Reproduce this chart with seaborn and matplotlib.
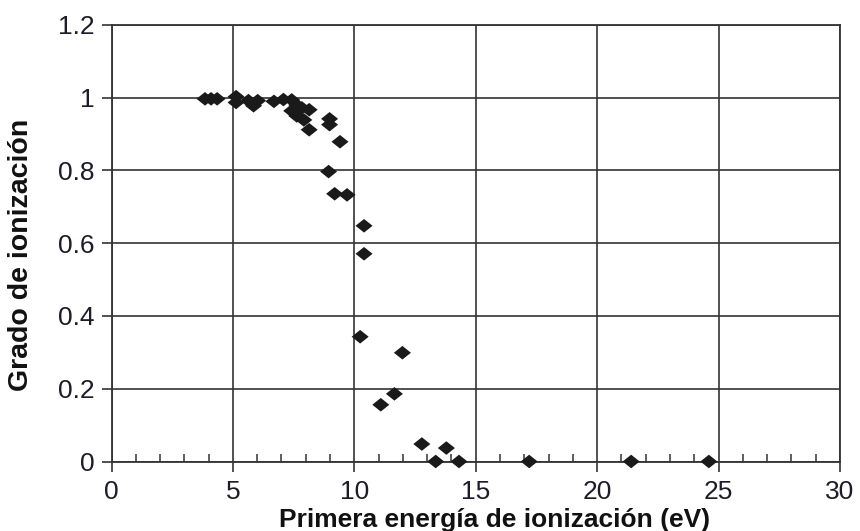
import matplotlib
matplotlib.use("Agg")
import matplotlib.pyplot as plt
import seaborn as sns
import pandas as pd
from matplotlib.ticker import MultipleLocator

# Data
energia_ev = [3.85, 4.1, 4.35, 5.13, 5.13, 5.64, 5.85, 6.02, 6.69, 7.08,
              7.42, 7.63, 7.84, 8.14, 7.42, 7.63, 7.92, 8.14, 8.98, 8.98,
              9.41, 8.94, 9.19, 9.70, 10.4, 10.4, 10.24, 11.98, 11.65, 11.09,
              12.78, 13.35, 13.79, 14.31, 17.2, 21.4, 24.6]
grado_ionizacion = [0.997, 0.997, 0.997, 1.003, 0.987, 0.992, 0.978, 0.992, 0.99, 0.995,
                    0.994, 0.980, 0.972, 0.967, 0.964, 0.950, 0.939, 0.912, 0.942, 0.926,
                    0.879, 0.797, 0.736, 0.733, 0.648, 0.571, 0.343, 0.299, 0.186, 0.156,
                    0.048, 0.0, 0.037, 0.0, 0.0, 0.0, 0.0]

x_ticks = [0, 5, 10, 15, 20, 25, 30]
x_tick_labels = ["0", "5", "10", "15", "20", "25", "30"]
y_ticks = [0, 0.2, 0.4, 0.6, 0.8, 1.0, 1.2]
y_tick_labels = ["0", "0.2", "0.4", "0.6", "0.8", "1", "1.2"]

df = pd.DataFrame({"E": energia_ev, "g": grado_ionizacion})

sns.set_style("white")
plt.rcParams["font.family"] = ["Liberation Sans", "DejaVu Sans"]

fig = plt.figure(figsize=(8.6, 5.31), dpi=100)
ax = fig.add_axes([111.5 / 860, 1 - 461.5 / 531, 728.5 / 860, 436.5 / 531])

diamond = [(-1, 0), (0, 0.8), (1, 0), (0, -0.8), (-1, 0)]
sns.scatterplot(data=df, x="E", y="g", marker=diamond, s=150, color="#1a1a1a",
                edgecolor="none", ax=ax, zorder=5, clip_on=False)

ax.set_xlim(0, 30)
ax.set_ylim(0, 1.2)
ax.set_xticks(x_ticks)
ax.set_xticklabels(x_tick_labels)
ax.set_yticks(y_ticks)
ax.set_yticklabels(y_tick_labels)
ax.xaxis.set_minor_locator(MultipleLocator(1))

gc = "#333333"
ax.grid(True, which="major", color=gc, linewidth=1.2)
for sp in ax.spines.values():
    sp.set_visible(True)
    sp.set_color(gc)
    sp.set_linewidth(1.3)

tc = "#1c1c2a"
ax.tick_params(axis="x", which="major", bottom=True, direction="out", length=7.5, width=1.2,
               color=gc, labelsize=19, labelcolor=tc, pad=6)
ax.tick_params(axis="x", which="minor", bottom=True, direction="in", length=6, width=1.1, color=gc)
ax.tick_params(axis="y", which="major", left=True, direction="out", length=7.5, width=1.2,
               color=gc, labelsize=19, labelcolor=tc, pad=5)

ax.set_xlabel("Primera energía de ionización (eV)", fontsize=19, fontweight="bold", color="#111111")
ax.set_ylabel("Grado de ionización", fontsize=20.5, fontweight="bold", color="#111111")
ax.xaxis.set_label_coords(0.526, -0.107)
ax.yaxis.set_label_coords(-0.107, 0.473)

fig.savefig("out.png", dpi=100)
